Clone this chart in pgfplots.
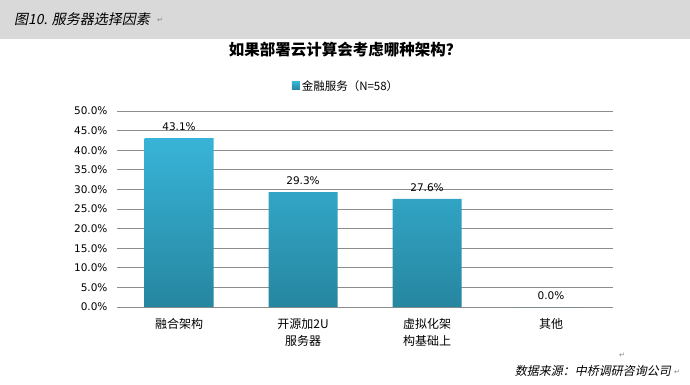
\documentclass[border=0pt]{standalone}
\usepackage{pgfplots}
\pgfplotsset{compat=1.18}
\usepackage{fontspec}
\setmainfont{DejaVu Sans}
\newfontfamily\dv{DejaVu Sans}
\newfontfamily\cjk{Noto Sans CJK SC}
\newfontfamily\cjkit[FakeSlant=0.2]{Noto Sans CJK SC}
\definecolor{bartop}{RGB}{56,180,216}
\definecolor{barbot}{RGB}{38,134,160}
\definecolor{gridc}{RGB}{140,140,140}
\definecolor{hdr}{RGB}{217,217,217}
\begin{document}
\begin{tikzpicture}[x=1pt,y=1pt]
\fill[white] (0,0) rectangle (690,-385);
\fill[hdr] (0,0) rectangle (690,-39);
\node[anchor=west,inner sep=0] at (14,-19) {\cjkit\fontsize{14}{16}\selectfont 图10. 服务器选择因素};
\node[text=gray,anchor=west,inner sep=0] at (157,-20) {\dv\fontsize{7}{8}\selectfont\char"21B5};
\node at (345,-50) {\cjk\bfseries\fontsize{15.5}{17}\selectfont 如果部署云计算会考虑哪种架构？};
\begin{axis}[
  at={(117pt,-307pt)}, anchor=south west,
  scale only axis, width=496pt, height=196pt,
  xmin=-0.5, xmax=3.5, ymin=0, ymax=50,
  /pgf/number format/assume math mode=true,
  axis line style={draw=none},
  major tick length=0pt,
  ytick={0,5,...,50},
  ymajorgrids, grid style={gridc, line width=0.8pt},
  yticklabel={\pgfmathprintnumber[fixed,fixed zerofill,precision=1]{\tick}\%},
  yticklabel style={font=\dv\fontsize{10.5}{12}\selectfont, xshift=-6pt},
  xtick={0,1,2,3},
  xticklabels={融合架构, 开源加2U\\服务器, 虚拟化架\\构基础上, 其他},
  xticklabel style={align=center, font=\cjk\fontsize{12}{17}\selectfont, yshift=-8pt},
  legend style={at={(0.4617,1.1276)}, anchor=center, draw=none, fill=none,
    font=\cjk\fontsize{11.5}{13}\selectfont, inner sep=0pt},
  legend image code/.code={\fill[bartop!70!barbot] (0pt,-3.5pt) rectangle (8pt,4.5pt);},
]
\addplot[ybar, bar width=69pt, draw=none, top color=bartop, bottom color=barbot,
  nodes near coords={\pgfmathprintnumber[fixed,fixed zerofill,precision=1]{\pgfplotspointmeta}\%},
  nodes near coords style={font=\dv\fontsize{10.5}{12}\selectfont, text=black, yshift=4pt}]
  coordinates {(0,43.1) (1,29.3) (2,27.6) (3,0.0)};
\addlegendentry{金融服务（N=58）}
\end{axis}
\node[text=gray] at (622,-355) {\dv\fontsize{7}{8}\selectfont\char"21B5};
\node[anchor=east,inner sep=0] at (671,-371) {\cjkit\fontsize{12}{14}\selectfont 数据来源：中桥调研咨询公司};
\node[text=gray,anchor=west,inner sep=0] at (674,-372) {\dv\fontsize{7}{8}\selectfont\char"21B5};
\end{tikzpicture}
\end{document}
